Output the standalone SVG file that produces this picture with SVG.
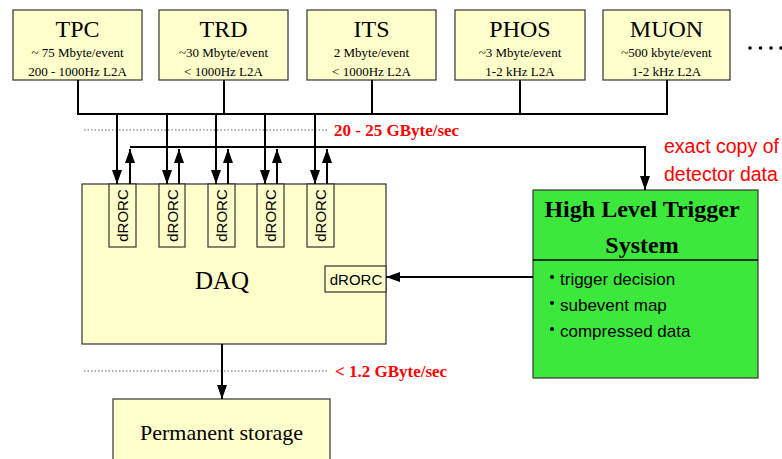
<svg xmlns="http://www.w3.org/2000/svg" width="782" height="459" viewBox="0 0 782 459">
<style>
.box{fill:#ffffcc;stroke:#333;stroke-width:1.2}
.hlt{fill:#3de83d;stroke:#333;stroke-width:1.2}
.t{font-family:"Liberation Serif",serif;fill:#000;text-anchor:middle}
.title{font-size:24px}
.sub{font-size:13px}
.s{font-family:"Liberation Sans",sans-serif;fill:#000}
.red{fill:#ff0000}
.rate{font-family:"Liberation Serif",serif;font-weight:bold;font-size:17px;fill:#ff0000}
.ln{stroke:#000;stroke-width:2;fill:none}
.dot{stroke:#666;stroke-width:1.2;stroke-dasharray:1.5,2;fill:none}
</style>
<defs>
<marker id="ah" viewBox="0 0 14 10" refX="14" refY="5" markerWidth="14" markerHeight="10" markerUnits="userSpaceOnUse" orient="auto">
<path d="M0,0 L14,5 L0,10 Z" fill="#000"/>
</marker>
</defs>
<rect width="782" height="459" fill="#fff"/>

<g id="tpc"><rect class="box" x="13" y="10" width="129" height="70"/>
<text class="t title" x="77.5" y="37">TPC</text>
<text class="t sub" x="77.5" y="57">~ 75 Mbyte/event</text>
<text class="t sub" x="77.5" y="76">200 - 1000Hz L2A</text></g>
<g id="trd"><rect class="box" x="159" y="10" width="129" height="70"/>
<text class="t title" x="223.5" y="37">TRD</text>
<text class="t sub" x="223.5" y="57">~30 Mbyte/event</text>
<text class="t sub" x="223.5" y="76">&lt; 1000Hz L2A</text></g>
<g id="its"><rect class="box" x="307" y="10" width="129" height="70"/>
<text class="t title" x="371.5" y="37">ITS</text>
<text class="t sub" x="371.5" y="57">2 Mbyte/event</text>
<text class="t sub" x="371.5" y="76">&lt; 1000Hz L2A</text></g>
<g id="phos"><rect class="box" x="455" y="10" width="130" height="70"/>
<text class="t title" x="520" y="37">PHOS</text>
<text class="t sub" x="520" y="57">~3 Mbyte/event</text>
<text class="t sub" x="520" y="76">1-2 kHz L2A</text></g>
<g id="muon"><rect class="box" x="603" y="10" width="127" height="70"/>
<text class="t title" x="666.5" y="37">MUON</text>
<text class="t sub" x="666.5" y="57">~500 kbyte/event</text>
<text class="t sub" x="666.5" y="76">1-2 kHz L2A</text></g>
<g id="more" fill="#000"><circle cx="750" cy="48" r="1.8"/><circle cx="760.5" cy="48" r="1.8"/><circle cx="771" cy="48" r="1.8"/><circle cx="781" cy="48" r="1.8"/></g>

<g id="daq"><rect class="box" x="82" y="184" width="304" height="160"/>
<text class="t" x="222" y="289" font-size="25">DAQ</text>
<g id="drorc1"><rect class="box" x="109" y="184" width="27" height="63"/><text class="s" font-size="15" text-anchor="middle" transform="translate(128,215.5) rotate(-90)">dRORC</text></g>
<g id="drorc2"><rect class="box" x="159" y="184" width="26" height="63"/><text class="s" font-size="15" text-anchor="middle" transform="translate(177.5,215.5) rotate(-90)">dRORC</text></g>
<g id="drorc3"><rect class="box" x="208" y="184" width="27" height="63"/><text class="s" font-size="15" text-anchor="middle" transform="translate(227,215.5) rotate(-90)">dRORC</text></g>
<g id="drorc4"><rect class="box" x="257" y="184" width="27" height="63"/><text class="s" font-size="15" text-anchor="middle" transform="translate(276,215.5) rotate(-90)">dRORC</text></g>
<g id="drorc5"><rect class="box" x="307" y="184" width="27" height="63"/><text class="s" font-size="15" text-anchor="middle" transform="translate(326,215.5) rotate(-90)">dRORC</text></g>
<g id="drorc6"><rect class="box" x="325" y="266" width="61" height="26"/><text class="s" font-size="15" text-anchor="middle" x="356" y="284.5">dRORC</text></g>
</g>

<g id="hlt"><rect class="hlt" x="533" y="190" width="225" height="188"/>
<line x1="533" y1="260" x2="758" y2="260" stroke="#000" stroke-width="1.5"/>
<text class="t" x="642" y="217" font-size="24" font-weight="bold">High Level Trigger</text>
<text class="t" x="642" y="253" font-size="24" font-weight="bold">System</text>
<g fill="#000"><circle cx="552" cy="277" r="2"/><circle cx="552" cy="303" r="2"/><circle cx="552" cy="329" r="2"/></g>
<text class="s" font-size="17" x="560" y="285">trigger decision</text>
<text class="s" font-size="17" x="560" y="311">subevent map</text>
<text class="s" font-size="17" x="560" y="337">compressed data</text></g>

<g id="storage"><rect class="box" x="113" y="399" width="217" height="70"/>
<text class="t" x="221.5" y="440" font-size="22">Permanent storage</text></g>

<g id="labels">
<line class="dot" x1="84" y1="130" x2="328" y2="130"/>
<text class="rate" x="334" y="136">20 - 25 GByte/sec</text>
<line class="dot" x1="84" y1="371" x2="328" y2="371"/>
<text class="rate" x="335" y="377">&lt; 1.2 GByte/sec</text>
<text class="s red" font-size="19.5" x="664" y="153">exact copy of</text>
<text class="s red" font-size="19.5" x="664" y="181">detector data</text>
</g>

<g id="connectors">
<path class="ln" d="M78,80 V114 M224,80 V114 M372,80 V114 M520,80 V114 M667,80 V114 M77,114 H668"/>
<path class="ln" d="M117,114 V184" marker-end="url(#ah)"/>
<path class="ln" d="M167,114 V184" marker-end="url(#ah)"/>
<path class="ln" d="M216,114 V184" marker-end="url(#ah)"/>
<path class="ln" d="M265,114 V184" marker-end="url(#ah)"/>
<path class="ln" d="M315,114 V184" marker-end="url(#ah)"/>
<path class="ln" d="M130,184 V149" marker-end="url(#ah)"/>
<path class="ln" d="M179,184 V149" marker-end="url(#ah)"/>
<path class="ln" d="M228,184 V149" marker-end="url(#ah)"/>
<path class="ln" d="M277,184 V149" marker-end="url(#ah)"/>
<path class="ln" d="M327,184 V149" marker-end="url(#ah)"/>
<path class="ln" d="M130,147 H645 V190" marker-end="url(#ah)"/>
<path class="ln" d="M533,277 H386" marker-end="url(#ah)"/>
<path class="ln" d="M222,344 V399" marker-end="url(#ah)"/>
</g>
</svg>
